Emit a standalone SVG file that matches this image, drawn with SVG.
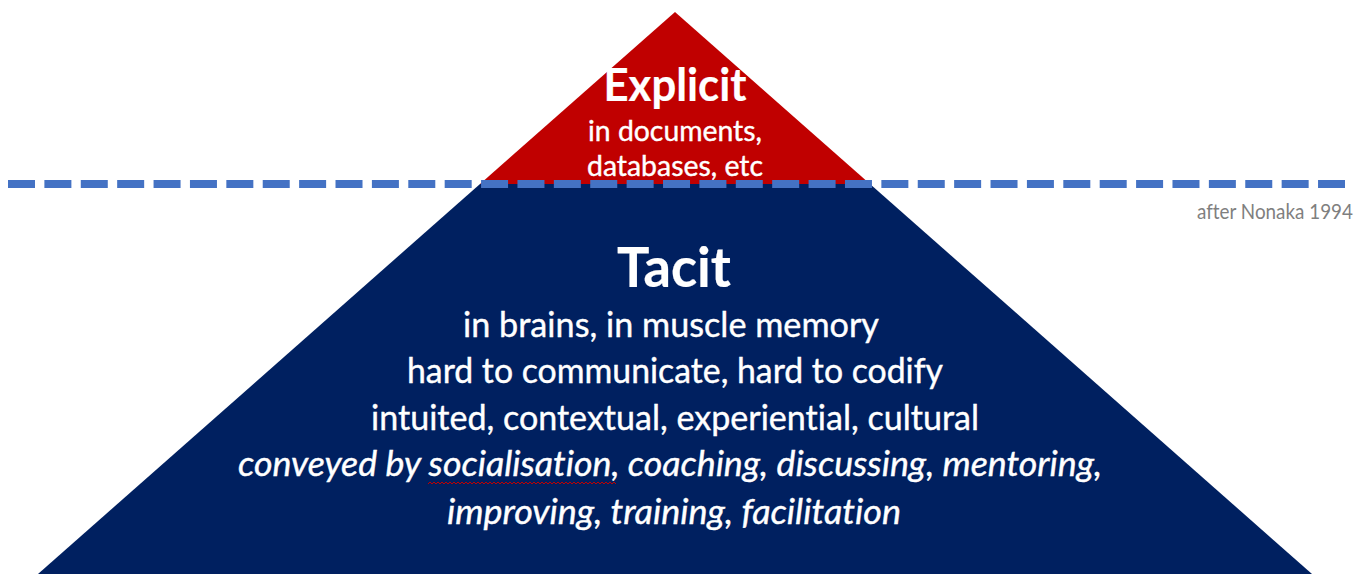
<svg xmlns="http://www.w3.org/2000/svg" width="1369" height="574" viewBox="0 0 1369 574">
  <style>
    .label { font-family: Lato, "Open Sans", "Liberation Sans", sans-serif; fill: #ffffff; stroke: #ffffff; stroke-width: 0.4; text-anchor: middle; font-variant-ligatures: none; }
    .title { font-weight: 700; stroke-width: 0.2; }
    .em { font-style: italic; }
    .note { font-family: Lato, "Open Sans", "Liberation Sans", sans-serif; fill: #7f7f7f; text-anchor: end; font-variant-ligatures: none; }
    .squiggle { fill: none; stroke: #c00000; stroke-width: 1; }
  </style>
  <rect width="1369" height="574" fill="#ffffff"/>

  <!-- lower, submerged part of the pyramid -->
  <g id="tacit">
    <polygon points="480,184 870,184 1312,574 38,574" fill="#002060"/>
    <text class="label title" x="674" y="287" font-size="55" textLength="114" lengthAdjust="spacingAndGlyphs">Tacit</text>
    <text class="label" x="671" y="337" font-size="35" textLength="416" lengthAdjust="spacingAndGlyphs">in brains, in muscle memory</text>
    <text class="label" x="675" y="383" font-size="35" textLength="536" lengthAdjust="spacingAndGlyphs">hard to communicate, hard to codify</text>
    <text class="label" x="675" y="430" font-size="35" textLength="608" lengthAdjust="spacingAndGlyphs">intuited, contextual, experiential, cultural</text>
    <text class="label em" x="670" y="476" font-size="35" textLength="864" lengthAdjust="spacingAndGlyphs">conveyed by socialisation, coaching, discussing, mentoring,</text>
    <path class="squiggle" d="M428,484 l2,-2 l2,2 l2,-2 l2,2 l2,-2 l2,2 l2,-2 l2,2 l2,-2 l2,2 l2,-2 l2,2 l2,-2 l2,2 l2,-2 l2,2 l2,-2 l2,2 l2,-2 l2,2 l2,-2 l2,2 l2,-2 l2,2 l2,-2 l2,2 l2,-2 l2,2 l2,-2 l2,2 l2,-2 l2,2 l2,-2 l2,2 l2,-2 l2,2 l2,-2 l2,2 l2,-2 l2,2 l2,-2 l2,2 l2,-2 l2,2 l2,-2 l2,2 l2,-2 l2,2 l2,-2 l2,2 l2,-2 l2,2 l2,-2 l2,2 l2,-2 l2,2 l2,-2 l2,2 l2,-2 l2,2 l2,-2 l2,2 l2,-2 l2,2 l2,-2 l2,2 l2,-2 l2,2 l2,-2 l2,2 l2,-2 l2,2 l2,-2 l2,2 l2,-2 l2,2 l2,-2 l2,2 l2,-2 l2,2 l2,-2 l2,2 l2,-2 l2,2 l2,-2 l2,2 l2,-2 l2,2 l2,-2 l2,2 l2,-2 l2,2 l2,-2 l2,2"/>
    <text class="label em" x="674" y="524" font-size="35" textLength="454" lengthAdjust="spacingAndGlyphs">improving, training, facilitation</text>
  </g>

  <!-- visible tip of the pyramid -->
  <g id="explicit">
    <polygon points="675,12 870,184 480,184" fill="#c00000"/>
    <text class="label title" x="675" y="101" font-size="46" textLength="143" lengthAdjust="spacingAndGlyphs">Explicit</text>
    <text class="label" x="675" y="141" font-size="29" textLength="174" lengthAdjust="spacingAndGlyphs">in documents,</text>
    <text class="label" x="675" y="176" font-size="29" textLength="176" lengthAdjust="spacingAndGlyphs">databases, etc</text>
    <path class="squiggle" d="M727,181 l2,-2 l2,2 l2,-2 l2,2 l2,-2 l2,2 l2,-2 l2,2 l2,-2 l2,2 l2,-2 l2,2 l2,-2 l2,2 l2,-2 l2,2 l2,-2 l2,2"/>
  </g>

  <!-- waterline between the two parts -->
  <g id="connectors">
    <line x1="8" y1="184" x2="1345" y2="184" stroke="#4472c4" stroke-width="8" stroke-dasharray="27 9.39"/>
  </g>

  <g id="caption">
    <text class="note" x="1353" y="219" font-size="21" textLength="156" lengthAdjust="spacingAndGlyphs">after Nonaka 1994</text>
  </g>
</svg>
